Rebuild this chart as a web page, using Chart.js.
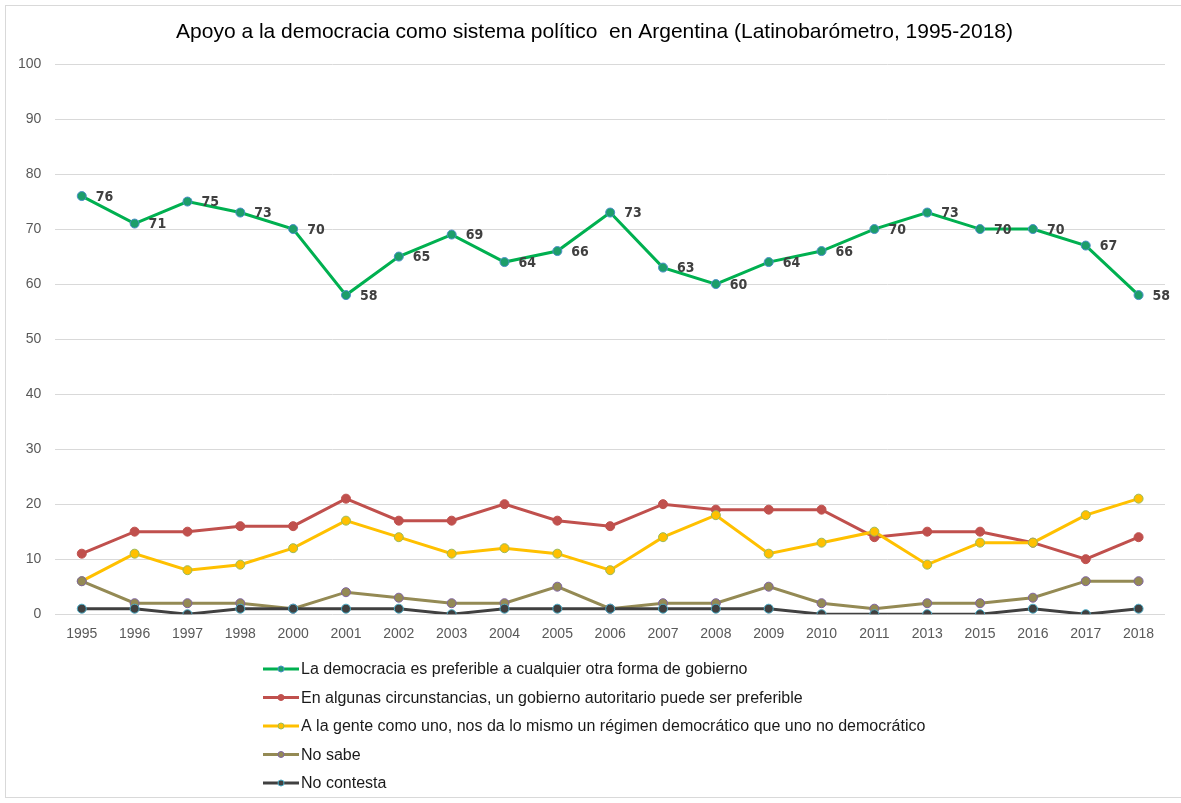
<!DOCTYPE html>
<html>
<head>
<meta charset="utf-8">
<script src="https://cdn.jsdelivr.net/npm/chart.js@4"></script>
<style>
  html, body { margin: 0; padding: 0; background: #fff; }
  #box { width: 1181px; height: 803px; }
</style>
</head>
<body>
<div id="box"><canvas id="grafico"></canvas></div>
<script>
const titulo = "Apoyo a la democracia como sistema político  en Argentina (Latinobarómetro, 1995-2018)";

// años de la encuesta
const anios = ["1995","1996","1997","1998","2000","2001","2002","2003","2004","2005","2006",
  "2007","2008","2009","2010","2011","2013","2015","2016","2017","2018"];

// series (%)
const preferible = [76,71,75,73,70,58,65,69,64,66,73,63,60,64,66,70,73,70,70,67,58];
const autoritario = [11,15,15,16,16,21,17,17,20,17,16,20,19,19,19,14,15,15,13,10,14];
const daIgual = [6,11,8,9,12,17,14,11,12,11,8,14,18,11,13,15,9,13,13,18,21];
const noSabe = [6,2,2,2,1,4,3,2,2,5,1,2,2,5,2,1,2,2,3,6,6];
const noContesta = [1,1,0,1,1,1,1,0,1,1,1,1,1,1,0,0,0,0,1,0,1];

const etiquetas = [
  "La democracia es preferible a cualquier otra forma de gobierno",
  "En algunas circunstancias, un gobierno autoritario puede ser preferible",
  "A la gente como uno, nos da lo mismo un régimen democrático que uno no democrático",
  "No sabe",
  "No contesta"
];
const yTicks = [0,10,20,30,40,50,60,70,80,90,100];

const lineas = ["#00B050", "#C0504D", "#FFC000", "#948A54", "#404040"];
const rellenos = ["#1C9E6A", "#C0504D", "#FFC000", "#948A54", "#404040"];
const bordes = ["#4A8FC8", "#C0504D", "#9BBB59", "#8064A2", "#4BACC6"];

const series = [preferible, autoritario, daIgual, noSabe, noContesta];

const datasets = series.map((d, i) => ({
  label: etiquetas[i],
  data: d,
  borderColor: lineas[i],
  backgroundColor: lineas[i],
  pointBackgroundColor: rellenos[i],
  pointBorderColor: bordes[i],
  pointBorderWidth: 1,
  pointRadius: 4.5,
  borderWidth: 3,
  tension: 0,
  order: 4 - i
}));

// fondo, marco gris y título
const marco = {
  id: "marco",
  beforeDraw(chart) {
    const ctx = chart.ctx;
    ctx.save();
    ctx.fillStyle = "#fff";
    ctx.fillRect(0, 0, chart.width, chart.height);
    ctx.strokeStyle = "#D9D9D9";
    ctx.lineWidth = 1;
    ctx.strokeRect(5.5, 5.5, 1200, 792);
    ctx.font = "21px 'Liberation Sans', Arial, sans-serif";
    ctx.fillStyle = "#000";
    ctx.textAlign = "center";
    ctx.textBaseline = "middle";
    ctx.fillText(titulo, 594.5, 32);
    ctx.restore();
  }
};

// valores de la serie verde
const valores = {
  id: "valores",
  afterDatasetsDraw(chart) {
    const ctx = chart.ctx;
    const meta = chart.getDatasetMeta(0);
    ctx.save();
    ctx.font = "bold 14px 'Liberation Sans Narrow', 'DejaVu Sans Condensed', sans-serif";
    ctx.fillStyle = "#404040";
    ctx.textBaseline = "middle";
    ctx.textAlign = "left";
    meta.data.forEach((p, i) => {
      ctx.fillText(preferible[i], p.x + 14, p.y + 1);
    });
    ctx.restore();
  }
};

// leyenda vertical, una serie por renglón
const leyenda = {
  id: "leyenda",
  afterDraw(chart) {
    const ctx = chart.ctx;
    ctx.save();
    ctx.font = "16px 'Liberation Sans', Arial, sans-serif";
    ctx.textBaseline = "middle";
    chart.data.datasets.forEach((ds, i) => {
      const y = 669 + i * 28.5;
      ctx.strokeStyle = lineas[i];
      ctx.lineWidth = 3;
      ctx.beginPath();
      ctx.moveTo(263, y);
      ctx.lineTo(299, y);
      ctx.stroke();
      ctx.beginPath();
      ctx.arc(281, y, 3, 0, Math.PI * 2);
      ctx.fillStyle = rellenos[i];
      ctx.fill();
      ctx.strokeStyle = bordes[i];
      ctx.lineWidth = 1;
      ctx.stroke();
      ctx.fillStyle = "#1a1a1a";
      ctx.fillText(ds.label, 301, y + 1);
    });
    ctx.restore();
  }
};

new Chart(document.getElementById("grafico"), {
  type: "line",
  data: { labels: anios, datasets },
  plugins: [marco, valores, leyenda],
  options: {
    responsive: true,
    maintainAspectRatio: false,
    animation: false,
    layout: { padding: { left: 4, right: 16, top: 64, bottom: 148 } },
    plugins: {
      legend: { display: false },
      tooltip: { enabled: false },
      title: { display: false }
    },
    scales: {
      x: {
        offset: true,
        grid: { display: false, drawTicks: false },
        border: { display: false },
        ticks: {
          color: "#595959",
          font: { family: "'Liberation Sans', Arial, sans-serif", size: 14 },
          padding: 12,
          maxRotation: 0,
          autoSkip: false
        }
      },
      y: {
        min: 0,
        max: 100,
        afterBuildTicks(axis) { axis.ticks = yTicks.map(v => ({ value: v })); },
        grid: { color: "#D9D9D9", lineWidth: 1, drawTicks: false },
        border: { display: false },
        ticks: {
          color: "#595959",
          font: { family: "'Liberation Sans', Arial, sans-serif", size: 14 },
          padding: 14
        }
      }
    }
  }
});
</script>
</body>
</html>
